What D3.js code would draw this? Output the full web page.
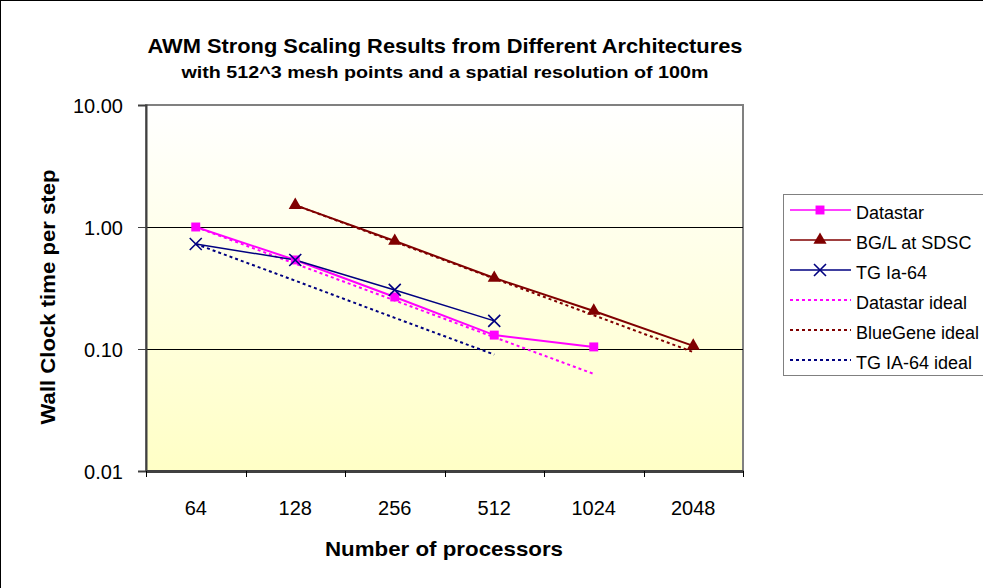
<!DOCTYPE html>
<html>
<head>
<meta charset="utf-8">
<script src="https://cdn.jsdelivr.net/npm/d3@7"></script>
<style>
  body { margin: 0; background: #fff; }
  svg { display: block; font-family: "Liberation Sans", Arial, sans-serif; }
</style>
</head>
<body>
<div id="chart-area"></div>
<script>
// DATA
const processors = ["64", "128", "256", "512", "1024", "2048"]
const datastar = [1.00, 0.537, 0.267, 0.130, 0.104]
const bgl = [null, 1.51, 0.768, 0.382, 0.205, 0.106]
const tgIa64 = [0.726, 0.537, 0.305, 0.170]
const datastarIdeal = [1.00, 0.50, 0.25, 0.125, 0.0625]
const blueGeneIdeal = [null, 1.51, 0.755, 0.378, 0.189, 0.0944]
const tgIdeal = [0.726, 0.363, 0.18, 0.09]
const yTicks = [10, 1, 0.1, 0.01]

const series = [
  { name: "Datastar", values: datastar, color: "#FF00FF", marker: "square", dash: null, width: 2 },
  { name: "BG/L at SDSC", values: bgl, color: "#800000", marker: "triangle", dash: null, width: 2 },
  { name: "TG Ia-64", values: tgIa64, color: "#000080", marker: "x", dash: null, width: 1.5 },
  { name: "Datastar ideal", values: datastarIdeal, color: "#FF00FF", marker: null, dash: "3,3", width: 2 },
  { name: "BlueGene ideal", values: blueGeneIdeal, color: "#800000", marker: null, dash: "3,3", width: 2 },
  { name: "TG IA-64 ideal", values: tgIdeal, color: "#000080", marker: null, dash: "3,3", width: 2 }
]

const W = 983, H = 588
const PLOT = { LEFT: 146, RIGHT: 743, TOP: 105, BOTTOM: 471 }

const svg = d3.select("#chart-area").append("svg")
  .attr("width", W)
  .attr("height", H)

// outer frame (only top/left visible, cropped at right/bottom)
svg.append("rect")
  .attr("x", 0.5).attr("y", 0.5)
  .attr("width", W + 10).attr("height", H + 10)
  .attr("fill", "#fff")
  .attr("stroke", "#000")

const grad = svg.append("defs").append("linearGradient")
  .attr("id", "bg").attr("x1", 0).attr("y1", 0).attr("x2", 0).attr("y2", 1)
grad.append("stop").attr("offset", "0%").attr("stop-color", "#FFFFFF")
grad.append("stop").attr("offset", "100%").attr("stop-color", "#FFFFC6")

// SCALES
const x = d3.scaleBand()
  .domain(processors)
  .range([PLOT.LEFT, PLOT.RIGHT])
const y = d3.scaleLog()
  .domain([0.01, 10])
  .range([PLOT.BOTTOM, PLOT.TOP])

const cx = i => x(processors[i]) + x.bandwidth() / 2

svg.append("rect")
  .attr("x", PLOT.LEFT).attr("y", PLOT.TOP)
  .attr("width", PLOT.RIGHT - PLOT.LEFT).attr("height", PLOT.BOTTOM - PLOT.TOP)
  .attr("fill", "url(#bg)")
  .attr("stroke", "#808080")
  .attr("stroke-width", 2)

// gridlines
svg.append("g").selectAll("line")
  .data([1, 0.1])
  .enter().append("line")
  .attr("x1", PLOT.LEFT).attr("x2", PLOT.RIGHT)
  .attr("y1", d => Math.round(y(d)) + 0.5).attr("y2", d => Math.round(y(d)) + 0.5)
  .attr("stroke", "#000")

// AXES
const yAxisCall = d3.axisLeft(y)
  .tickValues(yTicks)
  .tickFormat(d3.format(".2f"))
  .tickSize(8)
  .tickPadding(15)
const yAxis = svg.append("g")
  .attr("transform", `translate(${PLOT.LEFT}, 0)`)
  .call(yAxisCall)
yAxis.attr("font-size", 20).attr("font-family", "Liberation Sans, Arial, sans-serif")
yAxis.select(".domain").attr("stroke", "#404040").attr("stroke-width", 2)
yAxis.selectAll(".tick line").attr("stroke", "#404040")
yAxis.selectAll("text").attr("fill", "#000").attr("dy", "0.36em")

const xAxisCall = d3.axisBottom(x).tickSize(0)
const xAxis = svg.append("g")
  .attr("transform", `translate(0, ${PLOT.BOTTOM})`)
  .call(xAxisCall)
xAxis.attr("font-size", 20).attr("font-family", "Liberation Sans, Arial, sans-serif")
xAxis.select(".domain").attr("stroke", "#404040").attr("stroke-width", 3)
xAxis.selectAll("text").attr("fill", "#000").attr("y", 44).attr("dy", 0)

// boundary tick marks
svg.append("g").selectAll("line")
  .data(processors.concat(["end"]))
  .enter().append("line")
  .attr("x1", (d, i) => Math.round(PLOT.LEFT + i * x.bandwidth()) + 0.5)
  .attr("x2", (d, i) => Math.round(PLOT.LEFT + i * x.bandwidth()) + 0.5)
  .attr("y1", PLOT.BOTTOM).attr("y2", PLOT.BOTTOM + 6)
  .attr("stroke", "#000")

// LABELS
svg.append("text")
  .attr("x", 445).attr("y", 53)
  .attr("text-anchor", "middle")
  .attr("font-size", "21px").attr("font-weight", "bold")
  .attr("textLength", 595).attr("lengthAdjust", "spacingAndGlyphs")
  .text("AWM Strong Scaling Results from Different Architectures")
svg.append("text")
  .attr("x", 445).attr("y", 78)
  .attr("text-anchor", "middle")
  .attr("font-size", "16px").attr("font-weight", "bold")
  .attr("textLength", 527).attr("lengthAdjust", "spacingAndGlyphs")
  .text("with 512^3 mesh points and a spatial resolution of 100m")
svg.append("text")
  .attr("x", 444).attr("y", 556)
  .attr("text-anchor", "middle")
  .attr("font-size", "21px").attr("font-weight", "bold")
  .attr("textLength", 238).attr("lengthAdjust", "spacingAndGlyphs")
  .text("Number of processors")
svg.append("text")
  .attr("transform", "translate(55, 297) rotate(-90)")
  .attr("text-anchor", "middle")
  .attr("font-size", "20px").attr("font-weight", "bold")
  .attr("textLength", 255).attr("lengthAdjust", "spacingAndGlyphs")
  .text("Wall Clock time per step")

// LINES
const line = d3.line()
  .defined(d => d.v != null)
  .x(d => cx(d.i))
  .y(d => y(d.v))

const symbols = {
  square: d3.symbol(d3.symbolSquare, 80),
  triangle: d3.symbol(d3.symbolTriangle, 75)
}

function drawMarker(g, type, color, px, py) {
  if (type === "x") {
    g.append("path")
      .attr("d", `M${px - 6},${py - 6}L${px + 6},${py + 6}M${px - 6},${py + 6}L${px + 6},${py - 6}`)
      .attr("stroke", color).attr("stroke-width", 1.6).attr("fill", "none")
  } else {
    g.append("path")
      .attr("d", symbols[type]())
      .attr("transform", `translate(${px}, ${py})`)
      .attr("fill", color)
  }
}

const lineOrder = [3, 4, 5, 0, 1, 2]
lineOrder.forEach(k => {
  const s = series[k]
  const pts = s.values.map((v, i) => ({ i, v }))
  svg.append("path")
    .datum(pts)
    .attr("d", line)
    .attr("fill", "none")
    .attr("stroke", s.color)
    .attr("stroke-width", s.width)
    .attr("stroke-dasharray", s.dash)
})
series.forEach(s => {
  if (!s.marker) return
  const g = svg.append("g")
  s.values.forEach((v, i) => {
    if (v != null) drawMarker(g, s.marker, s.color, cx(i), y(v))
  })
})

// LEGEND
const legend = svg.append("g")
legend.append("rect")
  .attr("x", 783.5).attr("y", 194.5)
  .attr("width", 210).attr("height", 181)
  .attr("fill", "#fff")
  .attr("stroke", "#808080")
series.forEach((s, i) => {
  const ly = 210 + i * 30
  legend.append("line")
    .attr("x1", 790).attr("x2", 851)
    .attr("y1", ly).attr("y2", ly)
    .attr("stroke", s.color)
    .attr("stroke-width", s.dash ? 2 : 1.5)
    .attr("stroke-dasharray", s.dash)
  if (s.marker) drawMarker(legend, s.marker, s.color, 820, ly)
  legend.append("text")
    .attr("x", 856).attr("y", ly + 9)
    .attr("font-size", "18px")
    .text(s.name)
})
</script>
</body>
</html>
